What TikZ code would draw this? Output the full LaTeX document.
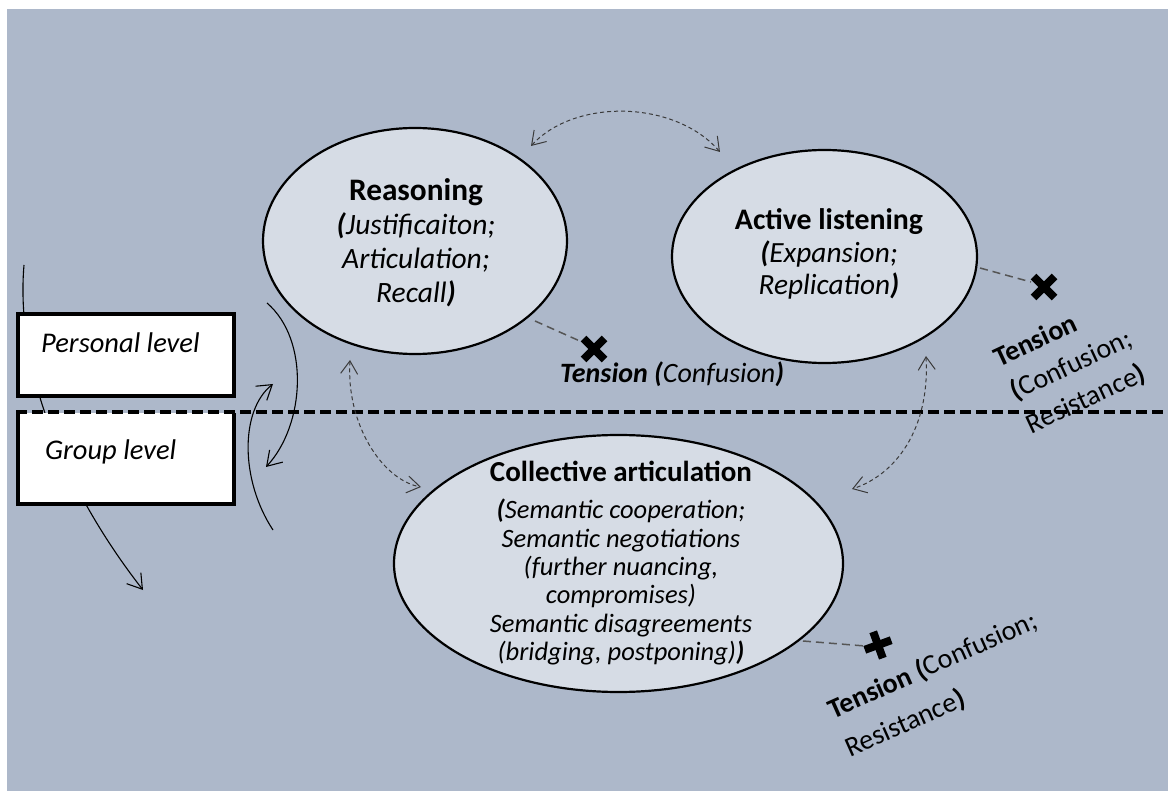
\documentclass[tikz,border=0pt]{standalone}
\usepackage{fontspec}
\setmainfont{Carlito}
\usetikzlibrary{arrows.meta,shapes.geometric}
\definecolor{bgblue}{HTML}{ADB8CA}
\definecolor{ellfill}{HTML}{D6DCE5}
\definecolor{dashgray}{HTML}{3A3A3A}
\definecolor{tensgray}{HTML}{555555}
\begin{document}
\begin{tikzpicture}[x=1pt,y=-1pt,
  bubble/.style={ellipse, draw=black, line width=2.2pt, fill=ellfill, inner sep=0pt},
  levelbox/.style={fill=white, inner sep=0pt},
  boxedge/.style={draw=black, line width=4.5pt, line join=miter},
  linkarrow/.style={dashgray, line width=1pt, dash pattern=on 4pt off 3pt,
    {Straight Barb[length=13pt,width=17pt]}-{Straight Barb[length=13pt,width=17pt]}},
  flowarrow/.style={black, line width=1.1pt, -{Straight Barb[length=14pt,width=18pt]}},
  tensionlink/.style={tensgray, line width=1.5pt, dash pattern=on 8pt off 5pt},
  crossmark/.style={black, line width=8pt},
  boundary/.style={black, line width=4pt, dash pattern=on 11pt off 5pt},
  maintxt/.style={inner sep=0pt, font=\fontsize{28}{34}\selectfont},
  smalltxt/.style={inner sep=0pt, font=\itshape\fontsize{26.5}{28.3}\selectfont},
]
\useasboundingbox (0,0) rectangle (1168,791);
\fill[bgblue] (7,9) rectangle (1168,791);

% big solid arc on the left (passes behind the level boxes)
\coordinate (fa1s) at (24,265);
\coordinate (fa1e) at (143,590);
\draw[flowarrow] (fa1s) .. controls (15,370) and (65,490) .. (fa1e);

% level boxes
\node[levelbox, minimum width=215.5pt, minimum height=81.5pt] (personal) at (126,355) {};
\draw[boxedge] (personal.north west) rectangle (personal.south east);
\node[levelbox, minimum width=215.5pt, minimum height=90.5pt] (group) at (126,458.5) {};
\draw[boxedge] (group.north west) -- (group.south west) -- (group.south east) -- (group.north east);
\node[maintxt, font=\itshape\fontsize{28.5}{34}\selectfont, anchor=base west] (perstxt) at (41,353) {Personal level};
\node[maintxt, font=\itshape\fontsize{28.5}{34}\selectfont, anchor=base west] (grouptxt) at (45,460) {Group level};

% boundary line
\coordinate (bl) at (16,412);
\coordinate (br) at (1168,412);
\draw[boundary] (bl) -- (br);

% crossing solid arrows
\coordinate (fa2s) at (267,303);
\coordinate (fa2e) at (266,467);
\draw[flowarrow] (fa2s) .. controls (310,340) and (305,425) .. (fa2e);
\coordinate (fa3s) at (273,530);
\coordinate (fa3e) at (273,384);
\draw[flowarrow] (fa3s) .. controls (240,480) and (240,410) .. (fa3e);

% ellipses
\node[bubble, minimum width=304pt, minimum height=226pt] (reason) at (415,241) {};
\node[bubble, minimum width=305pt, minimum height=213pt] (listen) at (824.5,256.5) {};
\node[bubble, minimum width=449pt, minimum height=257pt] (collect) at (618.5,563.5) {};

\node[maintxt, font=\fontsize{29.5}{34}\selectfont, align=center] (reasontxt) at (416,242.5)
  {{\bfseries\fontsize{31.3}{34}\selectfont Reasoning}\\
   \textbf{\textit{(}}\textit{Justificaiton;}\\
   \textit{Articulation;}\\
   \textit{Recall}\textbf{\textit{)}}};
\node[maintxt, font=\fontsize{29.3}{32.5}\selectfont, align=center] (listentxt) at (829,254)
  {{\bfseries\fontsize{29.8}{32.5}\selectfont Active listening}\\
   \textbf{\textit{(}}\textit{Expansion;}\\
   \textit{Replication}\textbf{\textit{)}}};
\node[maintxt, anchor=base, font=\bfseries\fontsize{29}{34}\selectfont] (collecthead) at (621,482) {Collective articulation};
\node[smalltxt, align=center, anchor=north] (collecttxt) at (621,499)
  {\textbf{(}Semantic cooperation;\\
   Semantic negotiations\\
   (further nuancing,\\
   compromises)\\
   Semantic disagreements\\
   (bridging, postponing)\textbf{)}};

% dashed links between ellipses
\coordinate (lkAs) at (531,146);
\coordinate (lkAe) at (720,152);
\draw[linkarrow] (lkAs) .. controls (575,98) and (675,100) .. (lkAe);
\coordinate (lkBs) at (350,360);
\coordinate (lkBe) at (421,487);
\draw[linkarrow] (lkBs) .. controls (346,425) and (383,480) .. (lkBe);
\coordinate (lkCs) at (926,356);
\coordinate (lkCe) at (852,489);
\draw[linkarrow] (lkCs) .. controls (930,430) and (895,475) .. (lkCe);

% tension: reasoning
\coordinate (t1a) at (535,321);
\coordinate (x1) at (594,349);
\coordinate (t1b) at (582,342);
\draw[tensionlink] (t1a) -- (t1b);
\draw[crossmark] ([shift={(-10.5,-10.5)}]x1) -- ([shift={(10.5,10.5)}]x1);
\draw[crossmark] ([shift={(-10.5,10.5)}]x1) -- ([shift={(10.5,-10.5)}]x1);
\node[maintxt, anchor=base west] (t1txt) at (560,383)
  {\textbf{\textit{Tension (}}\textit{Confusion}\textbf{\textit{)}}};

% tension: active listening
\coordinate (t2a) at (980,268);
\coordinate (x2) at (1044,287);
\coordinate (t2b) at (1031,282);
\draw[tensionlink] (t2a) -- (t2b);
\draw[crossmark] ([shift={(-10.5,-10.5)}]x2) -- ([shift={(10.5,10.5)}]x2);
\draw[crossmark] ([shift={(-10.5,10.5)}]x2) -- ([shift={(10.5,-10.5)}]x2);
\node[maintxt, font=\fontsize{28}{37}\selectfont, align=left, anchor=north west, rotate=25] (t2txt) at (990.5,349.5)
  {\textbf{Tension}\\ \hspace*{1pt}\textbf{(}Confusion;\\ \hspace*{1pt}Resistance\textbf{)}};

% tension: collective articulation
\coordinate (t3a) at (803,641);
\coordinate (x3) at (878,645);
\coordinate (t3b) at (865,646);
\draw[tensionlink] (t3a) -- (t3b);
\draw[crossmark] ([shift={(-13.2,4.8)}]x3) -- ([shift={(13.2,-4.8)}]x3);
\draw[crossmark] ([shift={(-4.8,-13.2)}]x3) -- ([shift={(4.8,13.2)}]x3);
\node[maintxt, font=\fontsize{28}{42}\selectfont, align=left, anchor=north west, rotate=24] (t3txt) at (824.5,700)
  {\textbf{Tension (}Confusion;\\ Resistance\textbf{)}};
\end{tikzpicture}
\end{document}
